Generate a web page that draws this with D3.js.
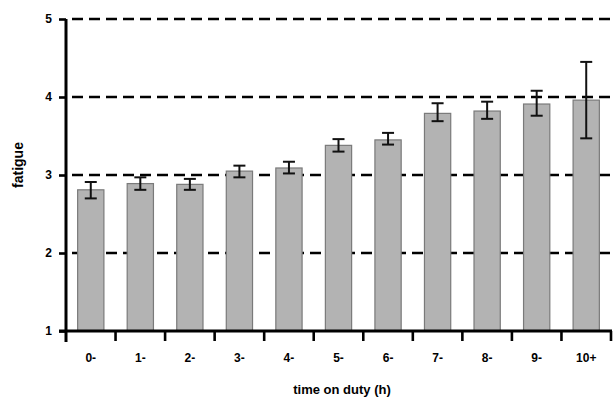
<!DOCTYPE html>
<html>
<head>
<meta charset="utf-8">
<script src="https://cdn.jsdelivr.net/npm/d3@7"></script>
<style>
  body { margin: 0; background: #fff; }
  text { font-family: "Liberation Sans", Arial, sans-serif; font-weight: bold; }
</style>
</head>
<body>
<div id="chart"></div>
<script>
// Data
var categories = ["0-", "1-", "2-", "3-", "4-", "5-", "6-", "7-", "8-", "9-", "10+"];
var means = [2.81, 2.89, 2.88, 3.05, 3.09, 3.38, 3.45, 3.79, 3.82, 3.91, 3.96];
var lower = [2.70, 2.81, 2.81, 2.97, 3.02, 3.30, 3.39, 3.69, 3.72, 3.76, 3.47];
var upper = [2.91, 2.97, 2.95, 3.12, 3.17, 3.46, 3.54, 3.92, 3.94, 4.08, 4.45];
var yTicks = [1, 2, 3, 4, 5];
var gridValues = [2, 3, 4, 5];

var svgWidth = 613;
var svgHeight = 397;

var chartMargin = { top: 19, right: 2, bottom: 66, left: 66 };
var chartWidth = svgWidth - chartMargin.left - chartMargin.right;
var chartHeight = svgHeight - chartMargin.top - chartMargin.bottom;

var svg = d3.select("#chart")
            .append("svg")
            .attr("width", svgWidth)
            .attr("height", svgHeight);

var chartGroup = svg.append("g")
                    .attr("transform", `translate(${chartMargin.left}, ${chartMargin.top})`);

var data = categories.map(function(c, i) {
    return { cat: c, mean: means[i], lo: lower[i], hi: upper[i] };
});

var xBand = d3.scaleBand()
              .domain(categories)
              .range([0, 545])
              .paddingInner(0.47)
              .paddingOuter(0.235);

var yLinearScale = d3.scaleLinear()
                     .domain([1, 5])
                     .range([chartHeight, 0]);

// dashed grid lines (behind bars)
chartGroup.selectAll(".grid")
          .data(gridValues)
          .enter()
          .append("line")
          .attr("x1", 0)
          .attr("x2", chartWidth)
          .attr("y1", d => yLinearScale(d))
          .attr("y2", d => yLinearScale(d))
          .attr("stroke", "#000")
          .attr("stroke-width", 2.6)
          .attr("stroke-dasharray", "11,6")
          .attr("stroke-dashoffset", -6);

// bars
chartGroup.selectAll(".bar")
          .data(data)
          .enter()
          .append("rect")
          .attr("x", d => xBand(d.cat))
          .attr("width", xBand.bandwidth())
          .attr("y", d => yLinearScale(d.mean))
          .attr("height", d => chartHeight - yLinearScale(d.mean))
          .attr("fill", "#b3b3b3")
          .attr("stroke", "#7a7a7a")
          .attr("stroke-width", 1.2);

// error bars
var errGroup = chartGroup.selectAll(".err")
                         .data(data)
                         .enter()
                         .append("g")
                         .attr("transform", d => `translate(${xBand(d.cat) + xBand.bandwidth() / 2}, 0)`);

errGroup.append("line")
        .attr("x1", 0).attr("x2", 0)
        .attr("y1", d => yLinearScale(d.lo))
        .attr("y2", d => yLinearScale(d.hi))
        .attr("stroke", "#111")
        .attr("stroke-width", 2);

errGroup.selectAll(".cap")
        .data(d => [d.lo, d.hi])
        .enter()
        .append("line")
        .attr("x1", -6).attr("x2", 6)
        .attr("y1", d => yLinearScale(d))
        .attr("y2", d => yLinearScale(d))
        .attr("stroke", "#111")
        .attr("stroke-width", 2);

// y axis
var leftAxis = d3.axisLeft(yLinearScale)
                 .tickValues(yTicks)
                 .tickFormat(d3.format("d"))
                 .tickSize(7)
                 .tickPadding(7);

var yAxis = chartGroup.append("g")
                      .call(leftAxis);
yAxis.select(".domain").remove();
yAxis.selectAll("line").attr("stroke", "#000").attr("stroke-width", 2.6);
yAxis.selectAll("text").attr("font-size", "12px").attr("fill", "#000");

chartGroup.append("line")
          .attr("x1", 0).attr("x2", 0)
          .attr("y1", 0).attr("y2", chartHeight + 11)
          .attr("stroke", "#000")
          .attr("stroke-width", 3);

// x axis: ticks at category boundaries
var boundaries = categories.map(c => xBand(c) - xBand.step() * xBand.paddingInner() / 2);
boundaries.push(545);

chartGroup.append("line")
          .attr("x1", -7).attr("x2", 545 + 1)
          .attr("y1", chartHeight).attr("y2", chartHeight)
          .attr("stroke", "#000")
          .attr("stroke-width", 3);

chartGroup.selectAll(".xtick")
          .data(boundaries.slice(1))
          .enter()
          .append("line")
          .attr("x1", d => d).attr("x2", d => d)
          .attr("y1", chartHeight).attr("y2", chartHeight + 10)
          .attr("stroke", "#000")
          .attr("stroke-width", 2.6);

chartGroup.selectAll(".xlabel")
          .data(categories)
          .enter()
          .append("text")
          .attr("x", d => xBand(d) + xBand.bandwidth() / 2)
          .attr("y", chartHeight + 31)
          .attr("text-anchor", "middle")
          .attr("font-size", "12px")
          .text(d => d);

// axis titles
svg.append("text")
   .attr("x", 342)
   .attr("y", 394)
   .attr("text-anchor", "middle")
   .attr("font-size", "13px")
   .text("time on duty (h)");

svg.append("text")
   .attr("transform", "translate(23, 165) rotate(-90)")
   .attr("text-anchor", "middle")
   .attr("font-size", "14px")
   .text("fatigue");
</script>
</body>
</html>
